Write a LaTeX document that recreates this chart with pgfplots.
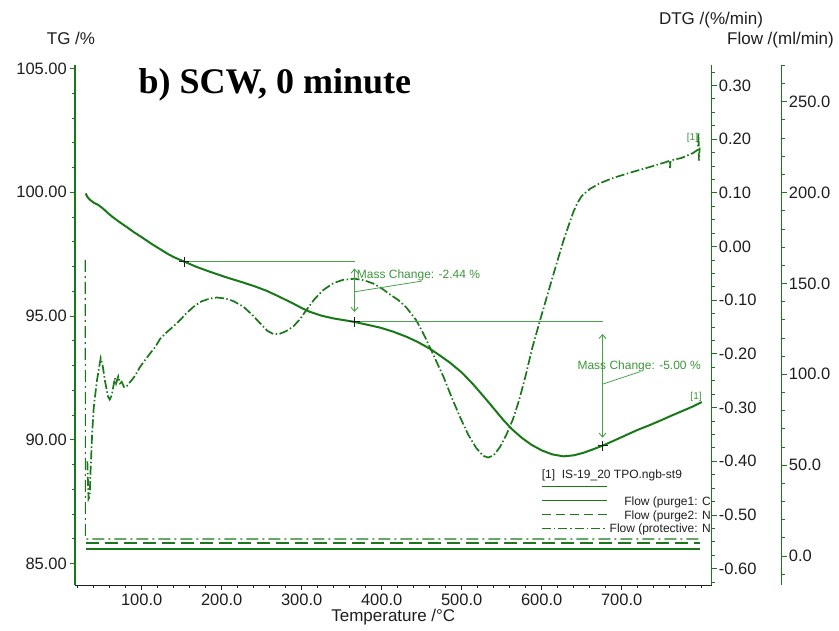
\documentclass[border=0pt]{standalone}
\usepackage{pgfplots}
\pgfplotsset{compat=1.18}
\usepackage{pgfplotstable}
\usepackage{fontspec}
\setmainfont{Liberation Sans}
\newfontfamily\serifbold{Liberation Serif}
\usetikzlibrary{arrows.meta}
\definecolor{cgreen}{RGB}{25,120,25}
\definecolor{agreen}{RGB}{75,160,75}
\definecolor{atext}{RGB}{60,150,60}
\definecolor{tgray}{RGB}{30,30,30}
\newcommand{\tickfont}{\fontsize{16.5bp}{19bp}\selectfont}
\newcommand{\labfont}{\fontsize{17bp}{20bp}\selectfont}
\newcommand{\smfont}{\fontsize{12bp}{14bp}\selectfont}

\pgfplotstableread{
T TG
30 99.95
32 99.82
35 99.70
40 99.58
46 99.48
52 99.33
58 99.15
64 98.99
72 98.80
81 98.60
91 98.37
102 98.14
112 97.92
123 97.70
132 97.52
140 97.38
153 97.20
168 96.99
185 96.79
205 96.57
227 96.35
242 96.19
256 96.02
272 95.78
289.5 95.50
300 95.32
310 95.17
325 95.01
340 94.90
355 94.82
366 94.76
380 94.66
398 94.53
415 94.36
431 94.16
445 93.95
460 93.68
472 93.42
485 93.12
500 92.72
514 92.25
525 91.84
535 91.46
545 91.07
552 90.80
563 90.42
575 90.08
587 89.80
600 89.57
613 89.41
627 89.33
640 89.37
652 89.47
664 89.61
676 89.76
690 89.96
705 90.18
720 90.40
735 90.59
748 90.77
762 90.97
775 91.15
788 91.33
800 91.52
}\tgdata

\pgfplotstableread{
T DTG
32 -0.40
33.5 -0.47
35 -0.465
36 -0.42
38 -0.35
40 -0.30
44 -0.25
48.7 -0.208
51 -0.22
54 -0.25
58 -0.28
60 -0.285
62.5 -0.277
66.5 -0.245
68 -0.255
70.7 -0.242
73 -0.255
75 -0.252
78 -0.262
81 -0.261
84 -0.255
87.5 -0.249
92 -0.240
98 -0.224
104 -0.212
110 -0.200
117 -0.187
123 -0.172
131 -0.160
139.5 -0.149
148 -0.137
156 -0.124
165 -0.112
175 -0.102
185 -0.097
194 -0.095
205 -0.097
215 -0.102
227 -0.112
238 -0.127
248 -0.143
257 -0.157
264.5 -0.163
272 -0.163
280 -0.158
289.5 -0.149
298 -0.135
306 -0.118
316 -0.098
327 -0.081
340 -0.068
352 -0.062
366 -0.060
378 -0.063
389.5 -0.069
400 -0.078
410 -0.089
421 -0.100
431 -0.114
443 -0.137
452 -0.162
460 -0.187
468 -0.213
477 -0.242
488 -0.283
498 -0.318
508 -0.350
518 -0.375
527 -0.390
533 -0.393
540 -0.389
548 -0.373
556 -0.350
564 -0.322
572 -0.285
580 -0.240
588 -0.190
598 -0.137
606 -0.096
614 -0.055
620 -0.025
627 0.010
635 0.045
640 0.066
645 0.082
650 0.094
660 0.107
673 0.118
690 0.128
714 0.139
735 0.148
755 0.157
760 0.160
760.5 0.146
761 0.160
775 0.165
789 0.174
795 0.180
796 0.213
796.5 0.160
797.5 0.184
}\dtgdata

\pgfplotsset{
  myaxis/.style={
    at={(75bp,46bp)}, anchor=south west, scale only axis,
    height=520bp,
    tick align=outside,
    major tick length=5bp, minor tick length=3bp,
    /pgf/number format/assume math mode=true,
    tick label style={font=\tickfont, text=tgray},
  }
}

\begin{document}
\begin{tikzpicture}
\path[use as bounding box] (0bp,0bp) rectangle (839bp,631bp);

% Flow axis (outermost right)
\begin{axis}[myaxis, width=706.7bp,
  xmin=16.6, xmax=900, ymin=-15.96, ymax=270.2,
  hide x axis, axis y line*=right,
  y axis line style={-, cgreen, line width=1.2bp},
  ytick={0,50,...,250}, minor ytick={-10,0,...,270},
  ytick style={cgreen, line width=0.8bp},
  yticklabel style={/pgf/number format/fixed, /pgf/number format/fixed zerofill, /pgf/number format/precision=1, inner sep=2bp},
]
\addplot[cgreen, line width=1.2bp] coordinates {(30,3.9) (798,3.9)};
\addplot[cgreen, line width=1.2bp, dash pattern=on 13bp off 6bp] coordinates {(30,7.2) (798,7.2)};
\addplot[cgreen, line width=1.2bp, dash pattern=on 12bp off 4bp on 2bp off 4bp] coordinates {(29.5,163) (29.6,9.4) (798,9.4)};
\end{axis}

% DTG axis
\begin{axis}[myaxis, width=636.7bp,
  xmin=16.6, xmax=812.5, ymin=-0.6304, ymax=0.338,
  hide x axis, axis y line*=right,
  y axis line style={-, cgreen, line width=1.2bp},
  ytick={-0.6,-0.5,-0.4,-0.3,-0.2,-0.1,0,0.1,0.2,0.3},
  minor ytick={-0.625,-0.6,...,0.33},
  ytick style={cgreen, line width=0.8bp},
  yticklabel style={/pgf/number format/fixed, /pgf/number format/fixed zerofill, /pgf/number format/precision=2, inner sep=2bp},
]
\addplot[cgreen, line width=1.7bp, dash pattern=on 9bp off 2.5bp on 1.5bp off 2.5bp] table[x=T, y=DTG] {\dtgdata};
\node[atext, font=\fontsize{10bp}{12bp}\selectfont] at (axis cs:788.5,0.202) {[1]};
\end{axis}

% TG axis
\begin{axis}[myaxis, width=636.7bp,
  xmin=16.6, xmax=812.5, ymin=84.131, ymax=105.141,
  axis x line*=bottom, axis y line*=left,
  x axis line style={-, tgray, line width=1bp},
  y axis line style={-, cgreen, line width=1.2bp},
  xtick={100,200,...,700}, minor xtick={20,40,...,800},
  ytick={85,90,...,105}, minor ytick={85,86,...,105},
  xtick style={tgray, line width=0.8bp},
  ytick style={cgreen, line width=0.8bp},
  xticklabel style={/pgf/number format/fixed, /pgf/number format/fixed zerofill, /pgf/number format/precision=1},
  yticklabel style={/pgf/number format/fixed, /pgf/number format/fixed zerofill, /pgf/number format/precision=2, inner sep=3bp},
]
\addplot[cgreen, line width=2bp] table[x=T, y=TG] {\tgdata};
% mass change annotations
\addplot[agreen, line width=0.9bp] coordinates {(153,97.2) (366,97.2)};
\addplot[agreen, line width=0.9bp] coordinates {(366,94.76) (676,94.76)};
\draw[agreen, line width=0.9bp, {Straight Barb[length=4bp,width=7bp]}-{Straight Barb[length=4bp,width=7bp]}, shorten <=7bp, shorten >=10bp] (axis cs:366,97.2) -- (axis cs:366,94.76);
\draw[agreen, line width=0.9bp, {Straight Barb[length=4bp,width=7bp]}-{Straight Barb[length=4bp,width=7bp]}, shorten <=12bp, shorten >=8bp] (axis cs:676,94.76) -- (axis cs:676,89.76);
\draw[agreen, line width=0.8bp] (axis cs:366.6,95.98) -- (axis cs:450,96.41);
\draw[agreen, line width=0.8bp] (axis cs:676.6,92.25) -- (axis cs:722.9,92.75);
\node[anchor=west, inner sep=0pt, atext, font=\smfont] at (axis cs:368.75,96.66) {Mass Change: -2.44 \%};
\node[anchor=west, inner sep=0pt, atext, font=\smfont] at (axis cs:644.5,92.98) {Mass Change: -5.00 \%};
\node[atext, font=\fontsize{10bp}{12bp}\selectfont] at (axis cs:792.9,91.73) {[1]};
\addplot[only marks, mark=+, mark size=5bp, mark options={tgray, line width=1bp}] coordinates {(153,97.2) (366,94.76) (676,89.76)};
\end{axis}

% legend (clipped at the DTG axis)
\begin{scope}
\clip (0bp,0bp) rectangle (712bp,631bp);
\node[anchor=base west, inner sep=0pt, text=tgray, font=\smfont] at (541.7bp,152.7bp) {[1]\ \ IS-19\_20 TPO.ngb-st9};
\draw[cgreen, line width=0.9bp] (541.7bp,144.3bp) -- (606.7bp,144.3bp);
\draw[cgreen, line width=0.9bp] (541.7bp,130.3bp) -- (606.7bp,130.3bp);
\draw[cgreen, line width=0.9bp, dash pattern=on 9bp off 5bp] (541.7bp,117bp) -- (606.7bp,117bp);
\draw[cgreen, line width=0.9bp, dash pattern=on 9bp off 3bp on 1.5bp off 3bp] (541.7bp,102.7bp) -- (606.7bp,102.7bp);
\node[anchor=base east, inner sep=0pt, text=tgray, font=\smfont] at (711bp,125.5bp) {Flow (purge1: C};
\node[anchor=base east, inner sep=0pt, text=tgray, font=\smfont] at (711bp,111.5bp) {Flow (purge2: N};
\node[anchor=base east, inner sep=0pt, text=tgray, font=\smfont] at (711bp,98bp) {Flow (protective: N};
\end{scope}

% axis titles
\node[anchor=base, inner sep=0pt, text=tgray, font=\labfont] at (71bp,586bp) {TG /\%};
\node[anchor=base, inner sep=0pt, text=tgray, font=\labfont] at (711bp,606bp) {DTG /(\%/min)};
\node[anchor=base, inner sep=0pt, text=tgray, font=\labfont] at (780.5bp,586bp) {Flow /(ml/min)};
\node[anchor=base, inner sep=0pt, text=tgray, font=\labfont] at (393.3bp,9.5bp) {Temperature /°C};
\node[anchor=base west, inner sep=0pt, font=\serifbold\bfseries\fontsize{36bp}{40bp}\selectfont] at (138.3bp,537bp) {b) SCW, 0 minute};
\end{tikzpicture}
\end{document}
